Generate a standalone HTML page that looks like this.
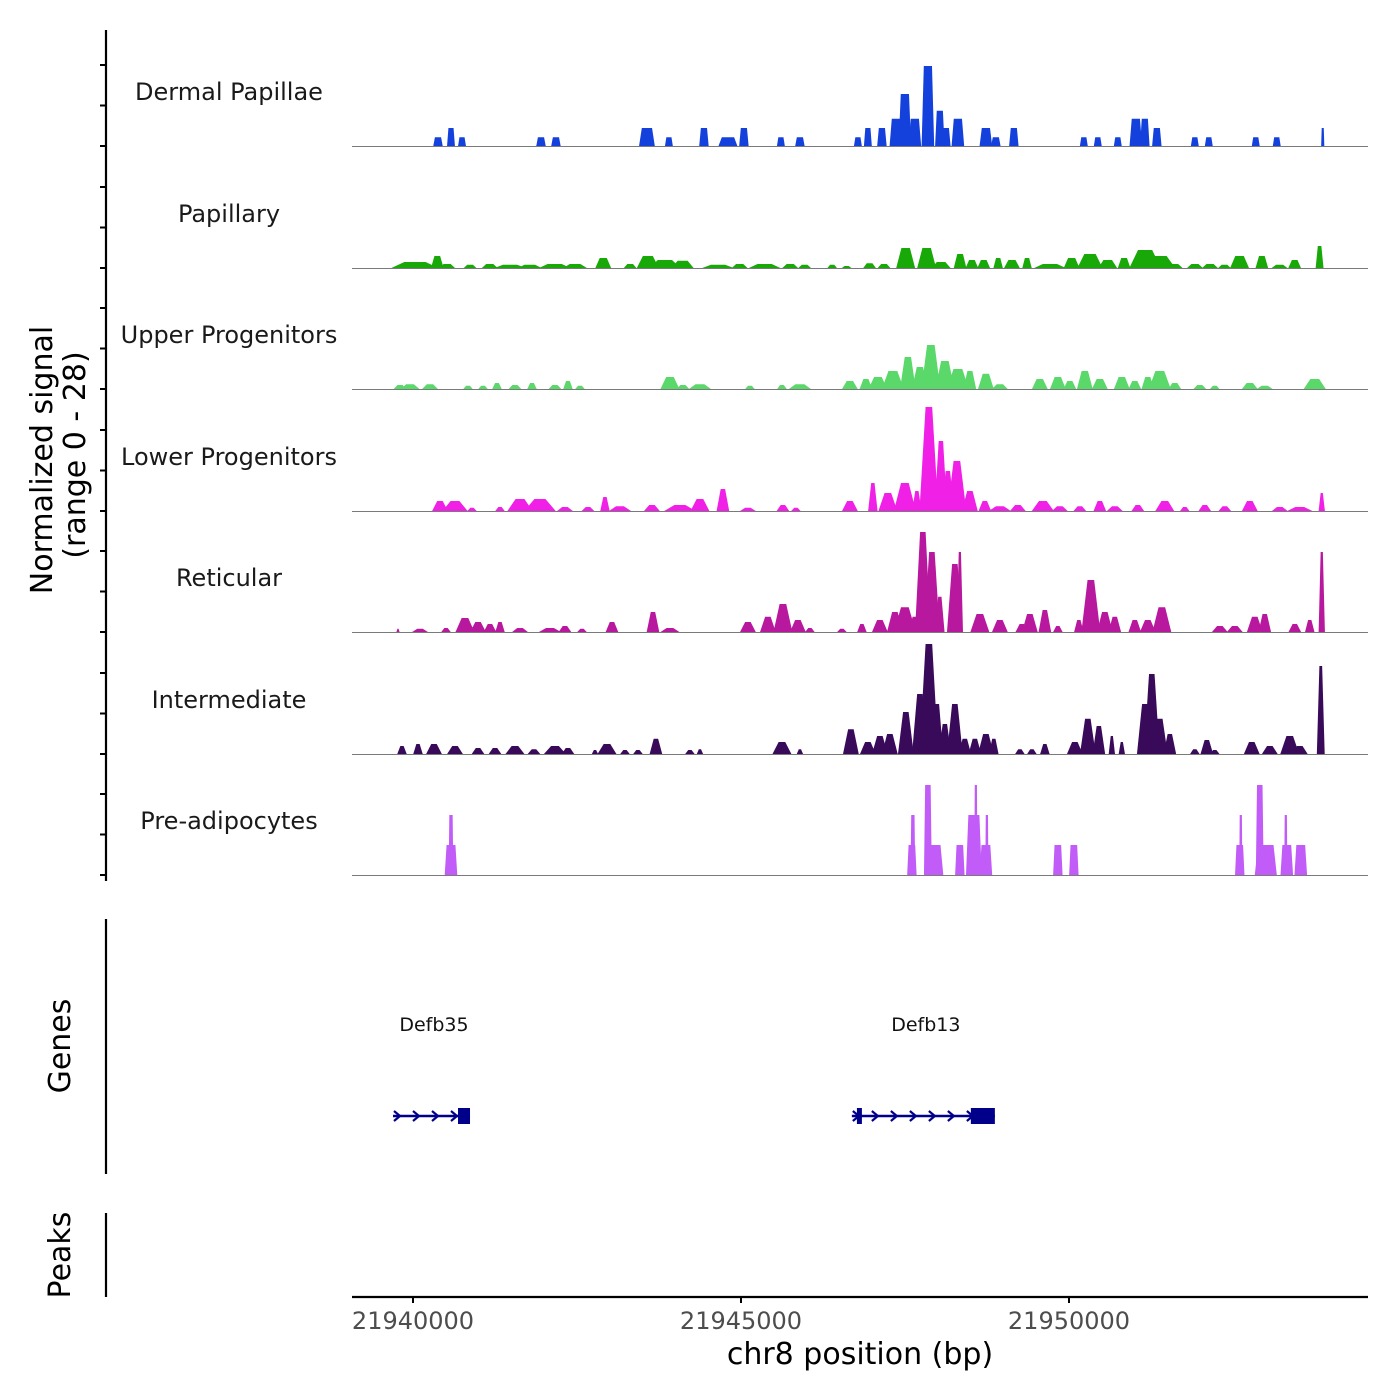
<!DOCTYPE html>
<html><head><meta charset="utf-8"><style>
html,body{margin:0;padding:0;background:#fff;}
svg{display:block;font-family:"DejaVu Sans","Liberation Sans",sans-serif;}
</style></head><body>
<svg id="chart" width="1400" height="1400" viewBox="0 0 1400 1400">
<g id="tracks"></g>
<g id="genes"></g>
<g id="axes"></g>
</svg>
<script>
// ---- data (positions: bp offset from 21,940,000; values: normalized signal 0-28) ----
const trackNames = ["Dermal Papillae","Papillary","Upper Progenitors","Lower Progenitors","Reticular","Intermediate","Pre-adipocytes"];
const xTicks = [21940000, 21945000, 21950000];
const xTickLabels = ["21940000","21945000","21950000"];

const dpPos = [381,579,747,1951,2179,3566,3901,4435,4801,5044,5608,5898,6782,6934,7148,7361,7498,7650,7849,8031,8123,8306,8733,8885,9159,10226,10439,10744,11019,11156,11339,11918,12131,12847,13167,13868];
const dpVal = [2.2,4.5,2.2,2.2,2.2,4.5,2.2,4.5,2.2,4.5,2.2,2.2,2.2,4.5,4.5,6.8,13,6.8,20,8.8,4.5,6.8,4.5,2.2,4.5,2.2,2.2,2.2,6.8,6.8,4.5,2.2,2.2,2.2,2.2,4.5];
const dpW = [90,75,75,90,90,150,75,90,180,90,75,90,75,75,90,120,120,120,120,90,90,120,120,90,90,75,75,75,120,90,90,75,75,75,75,30];

const papPos = [30,370,520,870,1170,1480,1780,2160,2470,2900,3310,3580,3840,4110,4650,4980,5360,5750,5970,6390,6610,6960,7180,7510,7830,8050,8340,8520,8700,8920,9130,9360,9710,10040,10320,10590,10840,11160,11380,11610,11920,12150,12370,12600,12940,13210,13440,13820];
const papVal = [1.5,3,1,0.8,1,0.8,0.8,1,1,2.5,1,3,2,1.8,0.8,1,1,1,0.8,0.8,0.5,1.2,1,5,5,1.5,3.5,2,2,2.5,2,2.5,1,2.5,3.5,2,2.5,4.5,3,1,1,1,0.8,3,3,0.8,2,5.5];
const papW = [450,120,150,120,150,300,225,300,225,150,120,210,300,210,300,150,300,150,120,90,90,120,120,180,180,180,120,120,120,90,150,90,300,150,240,180,120,300,300,150,150,150,120,180,120,150,120,75];

const upPos = [-198,-46,259,838,1067,1280,1554,1814,2164,2362,2545,3917,4115,4374,5136,5624,5898,6660,6904,7087,7315,7544,7727,7894,8108,8306,8489,8733,8946,9555,9830,10013,10241,10470,10805,11003,11201,11384,11613,11994,12222,12756,12984,13746];
const upVal = [1,1.2,1.2,0.8,0.8,1.5,1,1.5,1,2,0.8,3,1,1.2,0.8,1,1.2,2,2.5,3,4.5,8,5.5,11,7,5,4.5,3.8,1.2,2.5,3,2,4.5,2.5,3,2,3,4.5,1.5,1,0.8,1.5,0.8,2.5];
const upW = [120,180,150,90,90,90,120,90,120,90,90,180,120,210,90,90,210,150,120,180,210,150,150,180,180,210,120,150,150,150,150,120,150,150,150,120,120,210,120,120,90,150,150,210];

const lpPos = [411,640,899,1326,1631,1935,2316,2667,2926,3155,3642,4069,4374,4724,5105,5639,5837,6660,7010,7239,7498,7681,7864,8047,8153,8291,8489,8717,8946,9220,9601,9860,10165,10470,10698,11049,11460,11765,12070,12375,12756,13213,13518,13853];
const lpVal = [2.5,2.5,0.8,1,3,3,1,1,3.5,1.2,1.5,1.5,3,5.5,0.8,1.5,0.8,2.5,7,4.5,7,5,26,17.5,10,12.5,5,2.5,1.2,1.5,2.5,1.2,1.2,2.5,1.2,1.5,2.5,1,1.5,1.2,2.5,1,1,4.5];
const lpW = [150,240,90,90,240,300,150,120,90,210,150,300,180,120,150,120,90,150,90,180,210,90,180,120,120,180,150,120,210,150,210,150,120,120,150,120,180,90,120,120,150,150,240,60];

const retPos = [-229,107,503,792,991,1173,1326,1631,2088,2316,2576,3033,3658,3917,5105,5410,5639,5867,6050,6538,6843,7117,7346,7498,7650,7772,7910,8031,8260,8336,8641,8946,9281,9403,9632,9830,10150,10333,10546,10698,11003,11201,11415,12299,12527,12832,12984,13442,13670,13853];
const retVal = [0.8,0.8,1,3.5,2.5,2,2.5,1,1,1.5,0.8,2.5,5,1,2.5,3.8,7,3,1,0.8,2,3,5,6.2,3.8,25,20,8.8,17,20,4.5,3,2,4.5,5.5,1.5,3,13,5,3.8,3,3,6.2,1.5,1.5,3.8,4.5,2,3,20];
const retW = [30,150,90,180,150,120,90,150,210,120,90,120,120,180,150,150,180,150,90,90,90,150,150,210,120,150,150,90,150,60,180,150,120,150,120,90,90,180,150,120,120,150,180,150,150,150,120,120,90,60];

const intPos = [-168,76,320,640,991,1250,1554,1844,2164,2362,2774,2957,3231,3429,3703,4221,4374,5624,5898,6675,6934,7117,7269,7513,7727,7864,7986,8108,8260,8412,8565,8733,8854,9251,9434,9632,10089,10287,10455,10653,10805,11156,11262,11384,11537,11918,12101,12222,12786,13061,13365,13518,13838];
const intVal = [2,2.5,2.5,2,1.5,1.5,2,1.2,2,1.5,1,2.5,1,1,3.8,1,1.2,3,1.2,6.2,3,4.5,5,10.5,15,27.5,12.5,7.5,12.5,3.8,3.8,5,3.8,1.2,1.2,2.5,3,8.8,7,4.5,3,12.5,20,8.8,5,1.2,3.5,1,3,2,4.5,2,22];
const intW = [90,90,150,150,120,120,180,120,210,120,60,180,90,90,120,90,60,180,60,150,150,150,150,150,150,180,120,120,150,120,120,150,90,90,90,90,150,150,120,60,60,150,150,150,120,90,120,90,150,150,180,150,75];

const preaPos = [579,579,7605,7620,7849,7940,8336,8550,8580,8733,8748,9830,10074,12603,12619,12908,13000,13305,13320,13533];
const preaVal = [7.5,15,7.5,15,22.5,7.5,7.5,15,22.5,7.5,15,7.5,7.5,7.5,15,22.5,7.5,15,7.5,7.5];
const preaW = [120,45,90,45,75,180,90,150,30,120,30,90,90,90,30,75,210,30,120,120];

const geneNames = ["Defb35","Defb13"];
const geneStart = [-305, 6690];
const geneEnd = [869, 8870];
const exonStart = [686, 6767, 8504];
const exonEnd = [869, 6843, 8870];

// ---- scales ----
const ANCHOR = 21940000;
const X0 = 352, X1 = 1368, BP_MIN = 21939070, BP_MAX = 21954558;
function xScale(bp){ return X0 + (bp - BP_MIN) / (BP_MAX - BP_MIN) * (X1 - X0); }
function xOff(off){ return xScale(ANCHOR + off); }
const PX_PER_UNIT = 4;
function yScale(v, base){ return base - v * PX_PER_UNIT; }

const baselines = [146,268,389,511,632,754,875];
const colors = ["#1440dc","#18a808","#5ad86a","#f020e6","#b8189e","#3a0a5a","#c25cf8"];
const topFrac = [0.65,0.45,0.4,0.35,0.35,0.35,0.7];
const W_FACTOR = 1.6;
const trackData = [[dpPos,dpVal,dpW],[papPos,papVal,papW],[upPos,upVal,upW],[lpPos,lpVal,lpW],[retPos,retVal,retW],[intPos,intVal,intW],[preaPos,preaVal,preaW]];

const NS = "http://www.w3.org/2000/svg";
function mk(tag, attrs, parent){ const e=document.createElementNS(NS,tag); for(const k in attrs) e.setAttribute(k,attrs[k]); parent.appendChild(e); return e; }

const tracksG = document.getElementById("tracks");
trackNames.forEach((name, t) => {
  const g = mk("g", {}, tracksG);
  
  
  const base = baselines[t];
  const [pos, val, w] = trackData[t];
  for (let i = 0; i < pos.length; i++) {
    const xc = xOff(pos[i]);
    const half = (W_FACTOR * w[i] / (BP_MAX - BP_MIN) * (X1 - X0)) / 2;
    const th = half * topFrac[t];
    const yt = yScale(val[i], base);
    const p = mk("polygon", {points: `${xc-half},${base} ${xc-th},${yt} ${xc+th},${yt} ${xc+half},${base}`, fill: colors[t]}, g);
    
    
  }
  const bl = mk("line", {x1:X0, x2:X1, y1:base+0.5, y2:base+0.5, stroke:"#7a7a7a", "stroke-width":1}, g);
  
  
  const lab = mk("text", {x:229, y:base-46, "text-anchor":"middle", "font-size":24, fill:"#1a1a1a"}, g);
  lab.textContent = name;
  
  
});

// genes
const genesG = document.getElementById("genes");
const GY = 1116;
geneNames.forEach((gname, i) => {
  const xs = xOff(geneStart[i]), xe = xOff(geneEnd[i]);
  const lab = mk("text", {x:(i===0? xs+41 : xs+74), y:1031, "text-anchor":"middle", "font-size":19, fill:"#111"}, genesG);
  lab.textContent = gname;
  
  
  const ln = mk("line", {x1:xs, x2:xe, y1:GY, y2:GY, stroke:"#00008b", "stroke-width":2.5}, genesG);
  
  
  let d = "";
  for (let x = xs + 4; x < xe - 4; x += 19) d += `M${x-3},${GY-5} L${x+3},${GY} L${x-3},${GY+5} `;
  const ch = mk("path", {d, stroke:"#00008b", "stroke-width":2.2, fill:"none"}, genesG);
  
  
});
exonStart.forEach((s, i) => {
  const x0 = xOff(s), x1 = xOff(exonEnd[i]);
  const r = mk("rect", {x:x0, y:GY-8, width:x1-x0, height:16, fill:"#00008b"}, genesG);
  
  
});

// axes
const ax = document.getElementById("axes");
function line(x1,y1,x2,y2,w,name){ const l=mk("line",{x1,y1,x2,y2,stroke:"#000","stroke-width":w},ax);   return l; }
line(106,30,106,881,2.2,'y-axis-line');
baselines.forEach(b => { [0,40.5,81].forEach(o => line(100,b-o,106,b-o,2,'y-tick')); });
line(106,919,106,1174,2.2,'genes-axis-line');
line(106,1213,106,1297,2.2,'peaks-axis-line');
line(352,1297,1368,1297,2.2,'x-axis-line');
xTicks.forEach((v,i) => {
  const x = xScale(v);
  line(x,1297,x,1303,2,'x-tick');
  const t = mk("text",{x, y:1329, "text-anchor":"middle","font-size":24,fill:"#4d4d4d"},ax);
  t.textContent = xTickLabels[i];
  
  
});
function txt(s,x,y,size,name,rot){ const t=mk("text",{x,y,"text-anchor":"middle","font-size":size,fill:"#000"},ax); if(rot) t.setAttribute("transform",`rotate(-90 ${x} ${y})`); t.textContent=s;   return t; }
txt("chr8 position (bp)", 860, 1364, 30, 'x-axis-title');
txt("Normalized signal", 52, 460, 30, 'y-axis-title', true);
txt("(range 0 - 28)", 85, 455, 30, 'y-axis-subtitle', true);
txt("Genes", 70, 1046, 30, 'genes-axis-title', true);
txt("Peaks", 70, 1255, 30, 'peaks-axis-title', true);
</script>
</body></html>
